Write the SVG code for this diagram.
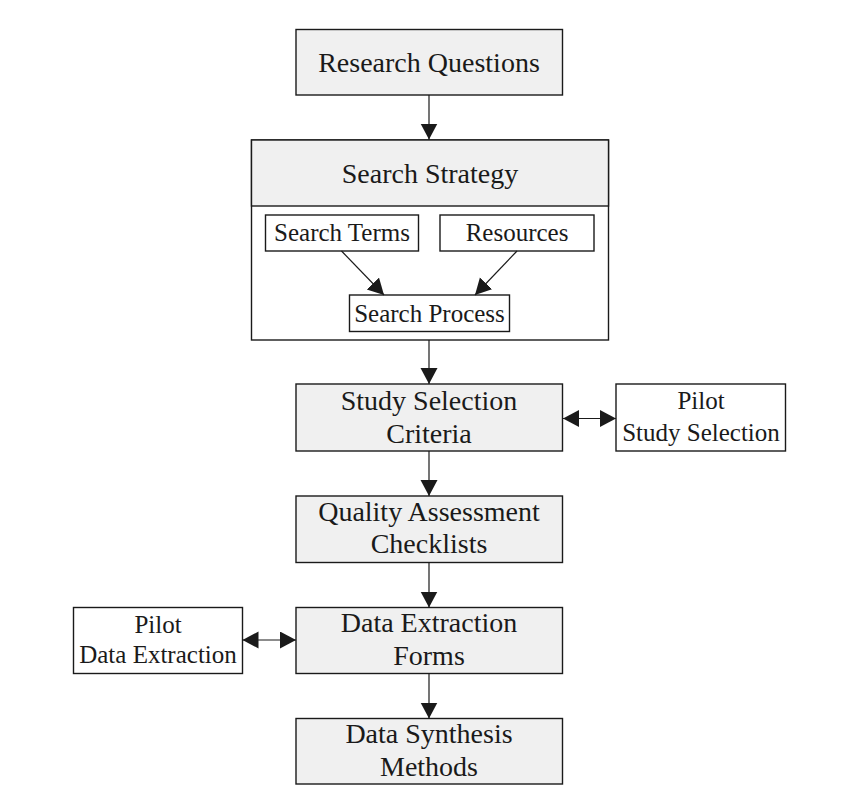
<svg xmlns="http://www.w3.org/2000/svg" width="858" height="811" viewBox="0 0 858 811">
<style>
.box{stroke:#1a1a1a;stroke-width:1.4}
.gray{fill:#f0f0f0}
.white{fill:#ffffff}
.t{font-family:"Liberation Serif","Times New Roman",serif;fill:#1a1a1a;text-anchor:middle}
.big{font-size:28px}
.small{font-size:25px}
.conn line{stroke:#1a1a1a;stroke-width:1.2;fill:none}
</style>
<defs>
<marker id="ah" markerUnits="userSpaceOnUse" markerWidth="18" markerHeight="18" viewBox="0 0 18 18" refX="16" refY="8.5" orient="auto-start-reverse">
<path d="M0,0 L16,8.5 L0,17 z" fill="#1a1a1a"/>
</marker>
</defs>
<rect width="858" height="811" fill="#ffffff"/>
<g id="research-questions">
<rect class="box gray" x="296" y="29.5" width="266.5" height="65.5"/>
<text class="t big" x="429" y="72">Research Questions</text>
</g>
<g id="search-strategy">
<rect class="box white" x="251.5" y="140" width="357" height="200"/>
<rect class="box gray" x="251.5" y="140" width="357" height="66"/>
<text class="t big" x="430" y="182.5">Search Strategy</text>
</g>
<g id="search-terms">
<rect class="box white" x="265.5" y="215" width="153" height="36"/>
<text class="t small" x="342" y="241">Search Terms</text>
</g>
<g id="resources">
<rect class="box white" x="440" y="215" width="154" height="36"/>
<text class="t small" x="517" y="241">Resources</text>
</g>
<g id="search-process">
<rect class="box white" x="349.5" y="295" width="160" height="36.5"/>
<text class="t small" x="429.5" y="322">Search Process</text>
</g>
<g id="study-selection">
<rect class="box gray" x="296" y="384" width="266.5" height="67"/>
<text class="t big" x="429" y="410">Study Selection</text>
<text class="t big" x="429" y="443">Criteria</text>
</g>
<g id="pilot-study-selection">
<rect class="box white" x="616" y="384" width="169.5" height="67"/>
<text class="t small" x="701" y="409">Pilot</text>
<text class="t small" x="701" y="441">Study Selection</text>
</g>
<g id="quality-assessment">
<rect class="box gray" x="296" y="496" width="266.5" height="66.5"/>
<text class="t big" x="429" y="520.5">Quality Assessment</text>
<text class="t big" x="429" y="553">Checklists</text>
</g>
<g id="data-extraction">
<rect class="box gray" x="296" y="607.5" width="266.5" height="66"/>
<text class="t big" x="429" y="632">Data Extraction</text>
<text class="t big" x="429" y="665">Forms</text>
</g>
<g id="pilot-data-extraction">
<rect class="box white" x="73.5" y="607.5" width="169" height="66"/>
<text class="t small" x="158" y="633">Pilot</text>
<text class="t small" x="158" y="663">Data Extraction</text>
</g>
<g id="data-synthesis">
<rect class="box gray" x="296" y="718.5" width="266.5" height="65.5"/>
<text class="t big" x="429" y="743">Data Synthesis</text>
<text class="t big" x="429" y="775.5">Methods</text>
</g>
<g id="connectors" class="conn">
<line x1="429" y1="95" x2="429" y2="139.5" marker-end="url(#ah)"/>
<line x1="341.5" y1="251" x2="384" y2="295" marker-end="url(#ah)"/>
<line x1="517" y1="251" x2="475" y2="295" marker-end="url(#ah)"/>
<line x1="429" y1="340" x2="429" y2="384" marker-end="url(#ah)"/>
<line x1="563" y1="418.5" x2="616" y2="418.5" marker-start="url(#ah)" marker-end="url(#ah)"/>
<line x1="429" y1="451" x2="429" y2="496" marker-end="url(#ah)"/>
<line x1="429" y1="562.5" x2="429" y2="607.5" marker-end="url(#ah)"/>
<line x1="242.5" y1="640" x2="296" y2="640" marker-start="url(#ah)" marker-end="url(#ah)"/>
<line x1="429" y1="673.5" x2="429" y2="718.5" marker-end="url(#ah)"/>
</g>
</svg>
